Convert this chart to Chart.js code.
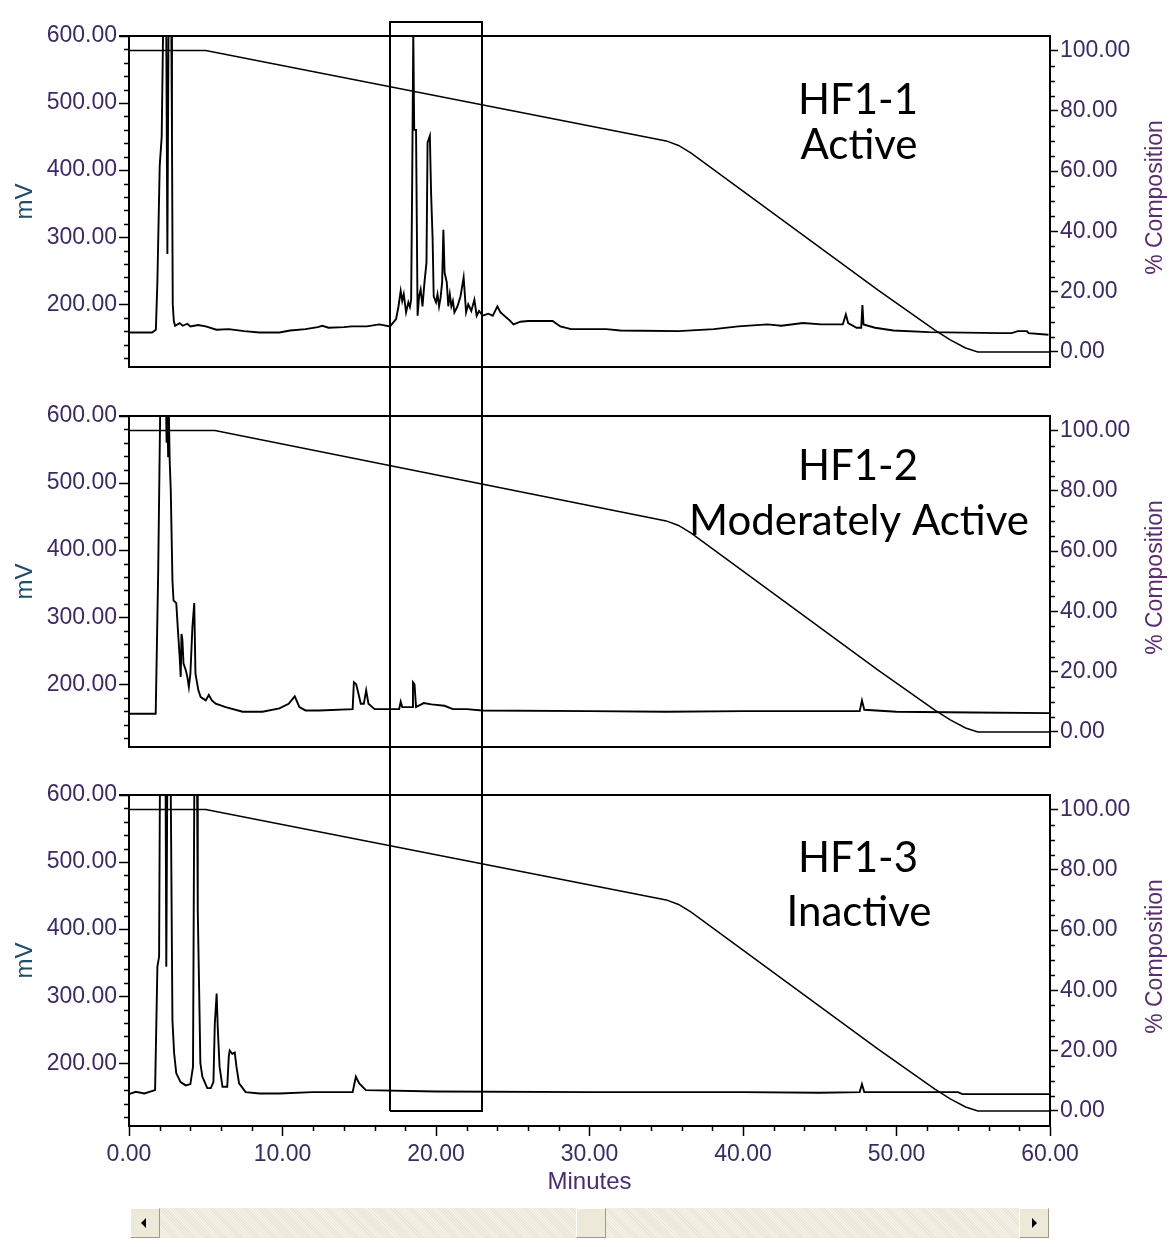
<!DOCTYPE html>
<html><head><meta charset="utf-8">
<script src="https://cdn.jsdelivr.net/npm/chart.js@4/dist/chart.umd.min.js"></script>
<style>
html,body{margin:0;padding:0;background:#fff;}
#wrap{position:relative;width:1175px;height:1247px;overflow:hidden;background:#fff;}
canvas{position:absolute;left:0;}
#c1{top:0}#c2{top:390px}#c3{top:770px}
#track{position:absolute;left:130px;top:1208px;width:919px;height:30px;background:repeating-linear-gradient(45deg,#f4f2e8 0 1px,#e9e6d6 1px 2px);}
.btn{position:absolute;top:0;width:30px;height:30px;background:#ece9d8;border-top:1px solid #fff;border-left:1px solid #fff;border-right:1px solid #9d9a8c;border-bottom:1px solid #9d9a8c;box-sizing:border-box;}
#bl{left:0}#br{right:0}#thumb{left:446px}
.arr{position:absolute;top:9px;width:0;height:0;border-top:5px solid transparent;border-bottom:5px solid transparent;}
#bl .arr{left:10px;border-right:5px solid #000;}
#br .arr{left:12px;border-left:5px solid #000;}
</style></head>
<body><div id="wrap">
<canvas id="c1" width="1175" height="390"></canvas>
<canvas id="c2" width="1175" height="380"></canvas>
<canvas id="c3" width="1175" height="477"></canvas>
<div id="track"><div class="btn" id="bl"><div class="arr"></div></div><div class="btn" id="thumb"></div><div class="btn" id="br"><div class="arr"></div></div></div>
</div>
<script>
// ---------------- DATA ----------------
const panelNames = ['HF1-1', 'HF1-2', 'HF1-3'];
const activityLabels = ['Active', 'Moderately Active', 'Inactive'];
const mvTicks = [200, 300, 400, 500, 600];
const pctTicks = [0, 20, 40, 60, 80, 100];
const minuteTicks = [0, 10, 20, 30, 40, 50, 60];
const boxStart = 17.0, boxEnd = 23.0;   // highlighted window (minutes)

// Panel 1 (HF1-1) chromatogram
const t1 = [0,1.5,1.75,1.85,2.0,2.13,2.24,2.42,2.5,2.58,2.75,2.8,2.85,2.92,3.0,3.3,3.5,3.8,4.0,4.5,5.0,5.7,6.5,7.5,8.5,9.8,10.5,11.5,12.3,12.6,13.0,14.0,14.5,15.5,16.3,17.0,17.4,17.55,17.7,17.8,17.9,18.05,18.2,18.3,18.38,18.45,18.52,18.58,18.7,18.8,18.9,19.0,19.12,19.25,19.38,19.45,19.6,19.68,19.78,19.85,20.0,20.1,20.2,20.3,20.4,20.48,20.56,20.7,20.8,20.9,21.0,21.1,21.2,21.4,21.6,21.8,21.96,22.1,22.3,22.5,22.65,22.8,23.05,23.4,23.7,24.0,24.2,24.35,24.6,24.8,25.05,25.5,26.0,27.6,28.1,28.8,31.1,32.0,33.5,35.8,38.1,39.7,41.6,42.5,43.9,45.1,46.5,46.7,46.85,47.4,47.7,47.78,47.85,48.6,49.8,52.1,56.75,57.5,57.9,58.5,58.6,59.9];
const mv1 = [158,158,162,234,406,450,640,640,275,640,640,450,200,175,168,172,168,171,167,169,167,162,163,160,158,158,161,163,166,168,165,166,167,167,170,167,178,196,220,205,215,188,203,196,207,386,605,460,460,183,212,222,197,233,262,441,451,366,297,212,203,215,197,210,233,311,247,233,197,215,197,205,188,197,212,240,188,200,190,207,183,190,183,186,183,197,188,185,180,176,170,174,175,175,167,163,163,161,160.5,160,163,167,170,168,172,170,170,185,172,165,165,199,170,165,161,158.5,157,157,160,160,157,154.5];

// Panel 2 (HF1-2) chromatogram
const t2 = [0,1.74,1.9,2.05,2.4,2.45,2.5,2.55,2.6,2.65,2.72,2.83,2.9,3.08,3.2,3.3,3.37,3.42,3.48,3.55,3.7,3.8,3.9,4.0,4.13,4.25,4.33,4.52,4.67,5.0,5.2,5.4,5.65,6.3,7.4,8.7,9.8,10.4,10.8,11.1,11.5,12.4,14.57,14.65,14.8,14.95,15.1,15.3,15.45,15.6,16.0,17.0,17.6,17.7,17.8,18.45,18.5,18.6,18.7,19.2,19.7,20.55,21.1,22.0,23,30,35,40,47.6,47.75,47.9,50,55,60];
const mv2 = [156,156,366,640,640,560,610,540,600,534,490,355,325,321,276,241,211,275,266,231,221,211,196,216,285,321,216,191,181,176,184,176,171,166,159,159,164,171,182,166,161,161,163,203,200,186,171,171,191,171,163,163,163,174,166,166,203,200,166,172,170,168,163,163,161,160,159,160,160,176,162,159,158,157];

// Panel 3 (HF1-3) chromatogram
const t3 = [0,0.44,1.0,1.7,1.85,1.96,2.02,2.38,2.43,2.5,2.71,2.83,2.94,3.08,3.36,3.7,4.0,4.17,4.26,4.43,4.48,4.57,4.65,4.78,5.1,5.33,5.5,5.59,5.71,5.78,5.9,6.09,6.4,6.5,6.56,6.73,6.89,7.0,7.17,7.6,8.5,9.8,11.95,14.57,14.78,15.0,15.43,20,30,40,45,47.6,47.75,47.9,54,54.3,60];
const mv3 = [154,157.5,155,160,344,359,640,640,344,640,640,264,215,185,172,167,169,195,640,640,428,309,200,180,163,163,172,259,304,254,195,165,165,210,219,214,216,195,170,157,155,155,157,157,180,170,160,158,157,157,156,157,169,157,157,154,154];

// Gradient (% Composition) for each panel
const gt1 = [0,5.0,35,35.8,36.6,48.8,52.5,53.5,54.5,55.3,60];
const gp1 = [100,100,70,68.5,66,20.5,7.2,4,1.3,0,0];
const gt2 = [0,5.6,35,35.8,36.6,48.8,52.5,53.5,54.5,55.3,60];
const gp2 = [100,100,70,68.5,66,20.5,7.2,4,1.3,0,0];
const gt3 = [0,5.0,35,35.8,36.6,48.8,52.5,53.5,54.5,55.3,60];
const gp3 = [100,100,70,68.5,66,20.5,7.2,4,1.3,0,0];

// ---------------- DRAWING ----------------
const pts = (ts, vs) => ts.map((t, i) => ({x: t, y: vs[i]}));
const TICK_COLOR = '#3a2a68';
const FONT = "'Liberation Sans', Arial, sans-serif";

const decor = {
  id: 'decor',
  afterDraw(chart, args, o) {
    const {ctx, chartArea: a, scales} = chart;
    const x = scales.x, yL = scales.y, yR = scales.y2;
    ctx.save();
    ctx.strokeStyle = '#000';
    // top frame line
    ctx.lineWidth = 2;
    ctx.beginPath(); ctx.moveTo(a.left - 10, a.top); ctx.lineTo(a.right, a.top); ctx.stroke();
    // minor ticks
    ctx.lineWidth = 1.5;
    ctx.beginPath();
    for (let v = 120; v < 600; v += 20) {
      if (v % 100 === 0) continue;
      const py = Math.round(yL.getPixelForValue(v)) + 0.5;
      ctx.moveTo(a.left - 5, py); ctx.lineTo(a.left, py);
    }
    for (let v = 0; v <= 100; v += 5) {
      if (v % 20 === 0) continue;
      const py = Math.round(yR.getPixelForValue(v)) + 0.5;
      ctx.moveTo(a.right, py); ctx.lineTo(a.right + 5, py);
    }
    if (o.xMinor) {
      for (let v = 0; v <= 60; v += 2) {
        if (v % 10 === 0) continue;
        const px = Math.round(x.getPixelForValue(v)) + 0.5;
        ctx.moveTo(px, a.bottom); ctx.lineTo(px, a.bottom + 5);
      }
    }
    ctx.stroke();
    // highlighted window
    ctx.lineWidth = 2;
    const bx1 = Math.round(x.getPixelForValue(boxStart)), bx2 = Math.round(x.getPixelForValue(boxEnd));
    const top = o.boxTop ? a.top - 14 : 0;
    const bot = o.boxBottom ? Math.round(yR.getPixelForValue(0)) : chart.height;
    ctx.beginPath();
    ctx.moveTo(bx1, bot); ctx.lineTo(bx1, top);
    if (o.boxTop) ctx.lineTo(bx2, top); else ctx.moveTo(bx2, top);
    ctx.lineTo(bx2, bot);
    if (o.boxBottom) ctx.lineTo(bx1, bot);
    ctx.stroke();
    // right axis title, reading bottom-to-top
    ctx.save();
    ctx.translate(1156, (a.top + a.bottom) / 2 - 4);
    ctx.rotate(-Math.PI / 2);
    ctx.fillStyle = '#5a2d70';
    ctx.font = "23px " + FONT;
    ctx.textAlign = 'center';
    ctx.textBaseline = 'middle';
    ctx.fillText('% Composition', 0, 0);
    ctx.restore();
    // panel labels
    ctx.fillStyle = '#000';
    ctx.textAlign = 'center';
    ctx.textBaseline = 'alphabetic';
    ctx.font = o.fontSize + "px Lato, 'Noto Sans', sans-serif";
    ctx.fillText(o.name, 858, a.top + o.y1);
    ctx.fillText(o.activity, 859, a.top + o.y2);
    ctx.restore();
  }
};

function makeChart(id, idx, trT, trV, gT, gV, cfg) {
  const last = idx === 2;
  return new Chart(document.getElementById(id), {
    type: 'line',
    data: {
      datasets: [
        {data: pts(trT, trV), yAxisID: 'y', borderColor: '#000', borderWidth: 1.9, pointRadius: 0, tension: 0},
        {data: pts(gT, gV), yAxisID: 'y2', borderColor: '#000', borderWidth: 1.5, pointRadius: 0, tension: 0}
      ]
    },
    options: {
      responsive: false, animation: false, devicePixelRatio: 1,
      layout: {padding: {top: cfg.padTop, bottom: cfg.padBottom, left: 0, right: 0}},
      plugins: {legend: {display: false}, tooltip: {enabled: false},
        decor: {xMinor: last, boxTop: idx === 0, boxBottom: last, name: panelNames[idx], activity: activityLabels[idx], fontSize: 42, y1: cfg.ly1, y2: cfg.ly2}},
      scales: {
        x: {
          type: 'linear', min: 0, max: 60,
          afterBuildTicks: s => { s.ticks = minuteTicks.map(v => ({value: v})); },
          afterFit: s => { s.height = cfg.xHeight; },
          grid: {display: true, drawOnChartArea: false, drawTicks: last, tickLength: 10, tickColor: '#000', tickWidth: 1.5},
          border: {display: true, color: '#000', width: 2},
          ticks: {display: last, color: TICK_COLOR, font: {family: FONT, size: 23}, padding: 5, maxRotation: 0,
            callback: v => v.toFixed(2)},
          title: {display: last, text: 'Minutes', color: '#4a2c74', font: {family: FONT, size: 24}, padding: {top: 0, bottom: 4}}
        },
        y: {
          position: 'left', min: 106.5, max: 600,
          afterBuildTicks: s => { s.ticks = mvTicks.map(v => ({value: v})); },
          afterFit: s => { s.width = 129; },
          grid: {display: true, drawOnChartArea: false, tickLength: 10, tickColor: '#000', tickWidth: 1.5},
          border: {display: true, color: '#000', width: 2},
          ticks: {color: TICK_COLOR, font: {family: FONT, size: 23}, padding: 2, callback: v => v.toFixed(2)},
          title: {display: true, text: 'mV', color: '#1f4d6c', font: {family: FONT, size: 24}, padding: {top: 11, bottom: 0}}
        },
        y2: {
          position: 'right', min: -5, max: 104.8,
          afterBuildTicks: s => { s.ticks = pctTicks.map(v => ({value: v})); },
          afterFit: s => { s.width = 125; },
          grid: {display: true, drawOnChartArea: false, tickLength: 8, tickColor: '#000', tickWidth: 1.5},
          border: {display: true, color: '#000', width: 2},
          ticks: {color: TICK_COLOR, font: {family: FONT, size: 23}, padding: 2, callback: v => v.toFixed(2)},
          title: {display: false}
        }
      }
    },
    plugins: [decor]
  });
}

makeChart('c1', 0, t1, mv1, gt1, gp1, {padTop: 36, padBottom: 0, xHeight: 23, ly1: 78, ly2: 123});
makeChart('c2', 1, t2, mv2, gt2, gp2, {padTop: 26, padBottom: 0, xHeight: 23, ly1: 64, ly2: 119});
makeChart('c3', 2, t3, mv3, gt3, gp3, {padTop: 25, padBottom: 46, xHeight: 75, ly1: 77, ly2: 131});
</script>
</body></html>
